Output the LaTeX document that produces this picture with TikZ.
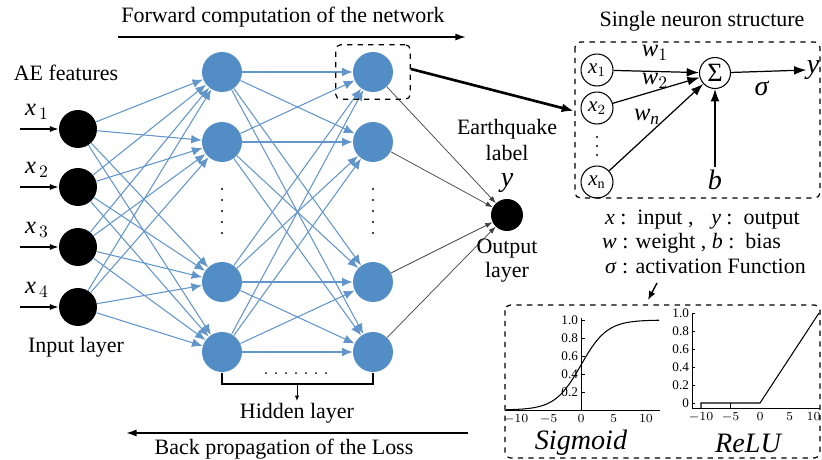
\documentclass[tikz,border=0pt]{standalone}
\usepackage{amsmath}
\usepackage{fontspec}
\setmainfont{Liberation Serif}
\usetikzlibrary{arrows.meta,positioning,calc,fit}

\definecolor{nnblue}{RGB}{83,141,198}
\definecolor{wireblue}{RGB}{98,150,202}
% italic variables in the text font
\newcommand{\vv}[1]{\textit{#1}}

\tikzset{
  inunit/.style={circle, fill=black, minimum size=0.76cm, inner sep=0pt},
  hidunit/.style={circle, fill=nnblue, minimum size=0.8cm, inner sep=0pt},
  outunit/.style={circle, fill=black, minimum size=0.64cm, inner sep=0pt},
  wire/.style={wireblue, line width=0.6pt, -{Latex[length=6pt,width=5pt]}},
  outwire/.style={black!75, line width=0.4pt, -{Latex[length=4pt,width=3pt]}},
  cell/.style={circle, draw, line width=0.6pt, minimum width=0.64cm, minimum height=0.6cm, inner sep=0pt, font=\fontsize{12}{13}\selectfont},
  dashbox/.style={draw, dashed, line width=0.7pt, rounded corners=3pt},
  lbl/.style={font=\fontsize{12.5}{14}\selectfont, align=center, inner sep=1pt},
  bigmath/.style={font=\fontsize{16}{17}\selectfont, inner sep=0pt},
  tick/.style={font=\fontsize{7.5}{8}\selectfont, inner sep=1pt}
}

\begin{document}
\begin{tikzpicture}[x=0.02cm, y=-0.02cm]
\useasboundingbox (0,0) rectangle (822,460);

% input layer
\foreach \i/\yy in {1/129,2/187,3/247,4/307}{
  \node[inunit] (in\i) at (78,\yy) {};
  \coordinate (feed\i) at (20,\yy);
  \draw[-{Latex[length=5pt,width=3.5pt]}, line width=0.8pt] (feed\i) -- (in\i);
  \node[lbl, font=\fontsize{14}{15}\selectfont] (xin\i) at (37,\yy-17) {$\vv{x}_{\,\i}$};
}
\node[lbl] (aefeat) at (66,73) {AE features};
\node[lbl] (inlayer) at (76,347) {Input layer};

% two hidden layers
\foreach \i/\yy in {1/72,2/142,3/282,4/352}{
  \node[hidunit] (ha\i) at (222,\yy) {};
  \node[hidunit] (hb\i) at (373,\yy) {};
}
\foreach \k in {0,...,4}{
  \fill (222,189+\k*11) circle (1.1);
  \fill (373,189+\k*11) circle (1.1);
}

\foreach \i in {1,...,4}
  \foreach \j in {1,...,4}{
    \draw[wire] (in\i) -- (ha\j);
    \draw[wire] (ha\i) -- (hb\j);
  }

% output unit
\node[outunit] (out) at (507,215) {};
\foreach \j in {1,...,4}
  \draw[outwire] (hb\j) -- (out);
\node[lbl, above=2pt of out, font=\fontsize{12.5}{15}\selectfont] (eqlabel) {Earthquake\\label\\{\fontsize{16}{16}\selectfont\vv{y}}};
\node[lbl, below=3pt of out, font=\fontsize{12.5}{14}\selectfont] (outlayer) {Output\\layer};

% bracket under hidden layers
\foreach \k in {0,...,6}
  \fill (266+\k*10,373) circle (1);
\draw[line width=0.6pt] (ha4.south) ++(0,1) -- (222,384) -- (373,384) -- (373,373);
\coordinate (brmid) at (297,384);
\node[lbl] (hidlayer) at (297,413) {Hidden layer};
\draw[-{Latex[length=3pt,width=2.5pt]}, line width=0.5pt] (brmid) -- (hidlayer.north);

% forward / backward arrows
\node[lbl] (fwdtext) at (283,17) {Forward computation of the network};
\coordinate (fwdA) at (118,37);
\coordinate (fwdB) at (466,37);
\draw[-{Latex[length=6pt,width=4pt]}, line width=0.9pt] (fwdA) -- (fwdB);
\node[lbl] (bwdtext) at (284,449) {Back propagation of the Loss};
\coordinate (bwdA) at (468,433);
\coordinate (bwdB) at (126,433);
\draw[-{Latex[length=6pt,width=4pt]}, line width=0.9pt] (bwdA) -- (bwdB);

% single neuron
\node[dashbox, fit=(hb1), inner xsep=0.34cm, inner ysep=0.14cm] (focus) {};
\node[lbl] (neutitle) at (702,21) {Single neuron structure};
\draw[dashbox] (575,42) rectangle (820,198);
\coordinate (nbin) at (574,111);
\draw[-{Latex[length=7pt,width=5pt]}, line width=1.5pt] (focus.east) ++(0,-3) -- (nbin);

\node[cell] (c1) at (597,70) {$\vv{x}_1$};
\node[cell] (c2) at (597,108) {$\vv{x}_2$};
\node[cell] (cn) at (597,182) {$\vv{x}_{\mathrm{n}}$};
\foreach \k in {0,...,2}
  \fill (597,137+\k*9) circle (1.1);
\node[cell, minimum width=0.62cm, minimum height=0.62cm, font=\fontsize{15}{15}\selectfont] (sum) at (715,73) {Σ};
\draw[-{Latex[length=7pt,width=5pt]}, line width=0.7pt] (c1) -- (sum);
\draw[-{Latex[length=7pt,width=5pt]}, line width=0.7pt] (c2) -- (sum);
\draw[-{Latex[length=7pt,width=5pt]}, line width=0.7pt] (cn) -- (sum);
\node[bigmath] (yout) at (813,70) {\vv{y}};
\draw[-{Latex[length=7pt,width=5pt]}, line width=0.7pt] (sum) -- (yout.west);
\node[bigmath] (sig) at (762,88) {\vv{σ}};
\node[bigmath] (bias) at (715,180) {\vv{b}};
\draw[-{Latex[length=7pt,width=5pt]}, line width=0.7pt] (bias.north) ++(0,-3) -- (sum);
\node[bigmath, font=\fontsize{14}{15}\selectfont] (w1) at (655,53) {$\vv{w}_1$};
\node[bigmath, font=\fontsize{14}{15}\selectfont] (w2) at (655,81) {$\vv{w}_2$};
\node[bigmath, font=\fontsize{14}{15}\selectfont] (wn) at (647,117) {$\vv{w}_{\vv{n}}$};

% legend
\node[lbl, anchor=west] (leg1) at (603,220) {\vv{x} :\, input ,\;\; \vv{y} :\, output};
\node[lbl, anchor=west] (leg2) at (600,243) {\vv{w} : weight , \vv{b} :\, bias};
\node[lbl, anchor=west] (leg3) at (603,266) {\vv{σ} : activation Function};

% activation functions
\draw[dashbox] (505,305) rectangle (820,458);
\coordinate (plotin) at (648,300);
\draw[-{Latex[length=5pt,width=4pt]}, line width=0.8pt] (657,283) -- (plotin);

% sigmoid
\draw[line width=0.5pt] (505,410) -- (660,410);
\draw[line width=0.5pt] (581,410) -- (581,318);
\foreach \t in {-10,-5,0,5,10}
  \node[tick, below] (sx\t) at (581+6.5*\t,412) {$\t$};
\foreach \v/\lab in {0.2/0.2,0.4/0.4,0.6/0.6,0.8/0.8,1.0/1.0}{
  \draw[line width=0.4pt] (581,410-90*\v) -- (585,410-90*\v);
  \node[tick, left] (sy\lab) at (580,410-90*\v) {\lab};
}
\draw[line width=0.6pt, domain=-11.5:12, samples=60, smooth]
  plot ({581+6.5*\x},{410-90/(1+exp(-\x/2))});
\node[font=\fontsize{16}{17}\selectfont\itshape] (signame) at (581,443) {Sigmoid};

% relu
\draw[line width=0.5pt] (692,408) -- (820,408);
\draw[line width=0.5pt] (692,408) -- (692,313);
\foreach \t in {-10,-5,0,5}
  \node[tick, below] (rx\t) at (760+5.9*\t,410) {$\t$};
\node[tick, below left, inner xsep=0pt] (rx10) at (821,410) {$10$};
\foreach \v/\lab in {0/0,0.2/0.2,0.4/0.4,0.6/0.6,0.8/0.8,1.0/1.0}{
  \draw[line width=0.4pt] (692,403-90*\v) -- (695,403-90*\v);
  \node[tick, left] (ry\lab) at (691,403-90*\v) {\lab};
}
\draw[line width=0.6pt] (701,408) -- (701,403) -- (760,403) -- (819,313);
\draw[line width=0.5pt] (730,408) -- (730,403);
\node[font=\fontsize{16}{17}\selectfont\itshape] (reluname) at (748,443) {ReLU};
\end{tikzpicture}
\end{document}
